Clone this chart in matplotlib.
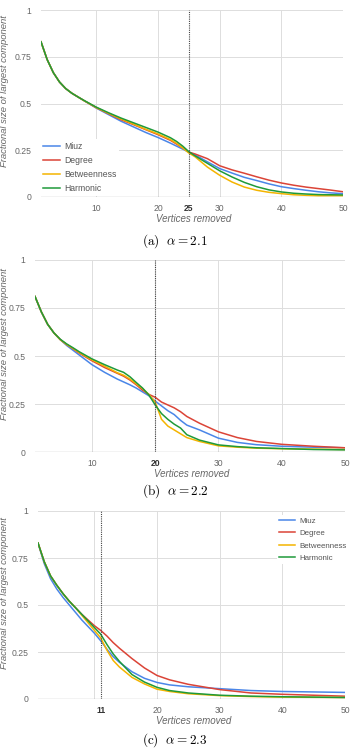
import matplotlib

matplotlib.use("Agg", force=True)
import matplotlib.pyplot as plt

plt.rcParams["font.family"] = ["Liberation Sans", "DejaVu Sans"]
plt.rcParams["mathtext.fontset"] = "cm"

SERIES = ["Miuz", "Degree", "Betweenness", "Harmonic"]
COLORS = ["#4a86e8", "#db4437", "#f4b400", "#1f9a3a"]

# (a) alpha = 2.1
x_a = [1, 2, 3, 4, 5, 6, 7, 8, 10, 12, 14, 16, 18, 20, 22, 23, 24, 25, 26, 28,
       30, 32, 34, 36, 38, 40, 42, 44, 46, 48, 50]
miuz_a = [0.83, 0.735, 0.665, 0.615, 0.58, 0.555, 0.535, 0.515, 0.475, 0.44, 0.405,
          0.375, 0.345, 0.318, 0.288, 0.272, 0.256, 0.24, 0.225, 0.188, 0.152, 0.128,
          0.105, 0.088, 0.07, 0.055, 0.045, 0.036, 0.028, 0.022, 0.018]
degree_a = [0.83, 0.735, 0.665, 0.615, 0.58, 0.555, 0.535, 0.515, 0.477, 0.445, 0.413,
            0.387, 0.36, 0.333, 0.303, 0.283, 0.262, 0.24, 0.23, 0.205, 0.167, 0.145,
            0.127, 0.108, 0.09, 0.075, 0.063, 0.053, 0.045, 0.037, 0.028]
betw_a = [0.83, 0.735, 0.665, 0.615, 0.58, 0.555, 0.535, 0.515, 0.478, 0.447, 0.417,
          0.39, 0.362, 0.337, 0.307, 0.287, 0.262, 0.235, 0.215, 0.16, 0.116, 0.08,
          0.053, 0.036, 0.025, 0.018, 0.012, 0.009, 0.007, 0.007, 0.007]
harm_a = [0.83, 0.735, 0.665, 0.615, 0.58, 0.555, 0.535, 0.516, 0.48, 0.45, 0.422,
          0.397, 0.372, 0.347, 0.317, 0.297, 0.272, 0.242, 0.22, 0.18, 0.14, 0.107,
          0.078, 0.055, 0.038, 0.027, 0.02, 0.016, 0.013, 0.012, 0.011]

# (b) alpha = 2.2
x_b = [1, 2, 3, 4, 5, 6, 7, 8, 10, 12, 14, 15, 16, 17, 18, 19, 20, 21, 22, 23, 24,
       25, 27, 30, 33, 36, 40, 45, 50]
miuz_b = [0.81, 0.73, 0.665, 0.62, 0.585, 0.555, 0.53, 0.505, 0.455, 0.415, 0.38,
          0.365, 0.35, 0.333, 0.313, 0.293, 0.265, 0.24, 0.215, 0.195, 0.165, 0.14,
          0.115, 0.072, 0.05, 0.038, 0.03, 0.025, 0.022]
degree_b = [0.81, 0.73, 0.665, 0.62, 0.585, 0.56, 0.538, 0.515, 0.475, 0.44, 0.41,
            0.395, 0.375, 0.35, 0.322, 0.30, 0.285, 0.26, 0.245, 0.23, 0.21, 0.185,
            0.15, 0.105, 0.075, 0.055, 0.04, 0.03, 0.022]
betw_b = [0.81, 0.73, 0.665, 0.62, 0.585, 0.56, 0.54, 0.518, 0.48, 0.447, 0.413,
          0.40, 0.38, 0.355, 0.33, 0.30, 0.26, 0.17, 0.135, 0.115, 0.095, 0.075,
          0.055, 0.032, 0.025, 0.02, 0.017, 0.015, 0.013]
harm_b = [0.81, 0.73, 0.665, 0.62, 0.587, 0.563, 0.543, 0.522, 0.485, 0.455, 0.427,
          0.415, 0.392, 0.362, 0.333, 0.297, 0.245, 0.20, 0.17, 0.145, 0.125, 0.09,
          0.062, 0.037, 0.028, 0.022, 0.018, 0.013, 0.011]

# (c) alpha = 2.3
x_c = [1, 2, 3, 4, 5, 6, 7, 8, 9, 10, 11, 12, 13, 14, 16, 18, 20, 22, 25, 30, 35,
       40, 50]
miuz_c = [0.83, 0.72, 0.64, 0.585, 0.54, 0.50, 0.46, 0.42, 0.385, 0.35, 0.31, 0.265,
          0.225, 0.195, 0.145, 0.11, 0.088, 0.075, 0.065, 0.055, 0.045, 0.04, 0.035]
degree_c = [0.83, 0.73, 0.655, 0.605, 0.56, 0.52, 0.485, 0.45, 0.42, 0.39, 0.365,
            0.335, 0.30, 0.27, 0.215, 0.165, 0.125, 0.102, 0.078, 0.05, 0.032, 0.025,
            0.015]
betw_c = [0.83, 0.73, 0.655, 0.605, 0.56, 0.52, 0.485, 0.445, 0.405, 0.365, 0.325,
          0.26, 0.205, 0.17, 0.115, 0.08, 0.052, 0.04, 0.028, 0.018, 0.013, 0.01,
          0.008]
harm_c = [0.83, 0.73, 0.655, 0.605, 0.56, 0.52, 0.485, 0.45, 0.415, 0.38, 0.345,
          0.29, 0.24, 0.20, 0.13, 0.09, 0.062, 0.045, 0.032, 0.02, 0.015, 0.012, 0.008]

GRID_X = [10, 20, 30, 40, 50]
GRID_Y = [0.25, 0.5, 0.75, 1.0]

W, H = 351, 749


def px_rect(left, top, right, bottom):
    """Axes rectangle from pixel edges measured from the top-left corner."""
    return [left / W, 1 - bottom / H, (right - left) / W, (bottom - top) / H]


PANELS = [
    dict(x=x_a, ys=[miuz_a, degree_a, betw_a, harm_a], mark=25,
         labels=[10, 20, 25, 30, 40, 50], caption=r"$\mathrm{(a)}\ \ \alpha = 2.1$",
         edges=(41, 10, 343, 197), cap_y=241,
         legend=dict(loc="lower left", bbox=(40, 196), size=6.2)),
    dict(x=x_b, ys=[miuz_b, degree_b, betw_b, harm_b], mark=20,
         labels=[10, 20, 30, 40, 50], caption=r"$\mathrm{(b)}\ \ \alpha = 2.2$",
         edges=(35, 260, 345, 452), cap_y=491, legend=None),
    dict(x=x_c, ys=[miuz_c, degree_c, betw_c, harm_c], mark=11,
         labels=[11, 20, 30, 40, 50], caption=r"$\mathrm{(c)}\ \ \alpha = 2.3$",
         edges=(38, 511, 345, 699), cap_y=740,
         legend=dict(loc="upper left", bbox=(277, 515), size=5.7)),
]

fig = plt.figure(figsize=(W / 100, H / 100), dpi=100)

for panel in PANELS:
    left, top, right, bottom = panel["edges"]
    ax = fig.add_axes(px_rect(left, top, right, bottom))
    for name, ys, color in zip(SERIES, panel["ys"], COLORS):
        ax.plot(panel["x"], ys, color=color, lw=1.1, label=name, zorder=3)

    ax.set_xlim(1, 50)
    ax.set_ylim(0, 1)
    for side in ax.spines.values():
        side.set_visible(False)

    for gx in GRID_X:
        ax.axvline(gx, color="#dddddd", lw=0.7, zorder=0)
    for gy in GRID_Y:
        ax.axhline(gy, color="#dddddd", lw=0.7, zorder=0)

    ax.set_xticks(panel["labels"], [str(v) for v in panel["labels"]])
    ax.set_yticks([0, 0.25, 0.5, 0.75, 1], ["0", "0.25", "0.5", "0.75", "1"])
    ax.tick_params(length=0, labelsize=6.2, colors="#666666")
    ax.tick_params(axis="x", pad=5)
    ax.tick_params(axis="y", pad=7)
    for lab in ax.get_xticklabels():
        if lab.get_text() == str(panel["mark"]):
            lab.set_fontweight("bold")
            lab.set_color("#333333")

    ax.axhline(0, color="#333333", lw=0.8, zorder=4)
    ax.axvline(panel["mark"], color="#444444", lw=0.8, ls=(0, (1, 1)), zorder=5)

    ax.set_xlabel("Vertices removed", fontsize=7, style="italic", color="#666666")
    ax.xaxis.set_label_coords(0.5, 1 - (bottom + 22) / H, transform=fig.transFigure)
    ax.set_ylabel("Fractional size of largest component", fontsize=6.8,
                  style="italic", color="#666666")
    ax.yaxis.set_label_coords(5 / W, 1 - (top + bottom - 24) / 2 / H,
                              transform=fig.transFigure)
    ax.xaxis.label.set_x((left + right) / 2 / W + 0.005)
    ax.xaxis.label.set_va("center")
    ax.yaxis.label.set_va("center")

    if panel["legend"]:
        bx, by = panel["legend"]["bbox"]
        leg = ax.legend(loc=panel["legend"]["loc"], bbox_to_anchor=(bx / W, 1 - by / H),
                        bbox_transform=fig.transFigure, fontsize=panel["legend"]["size"],
                        frameon=True, fancybox=False, edgecolor="none", framealpha=1,
                        handlelength=2.0, handletextpad=0.5, labelspacing=0.6,
                        borderpad=0.3, borderaxespad=0)
        for txt in leg.get_texts():
            txt.set_color("#555555")
        leg.set_zorder(6)

    fig.text(175 / W, 1 - panel["cap_y"] / H, panel["caption"],
             ha="center", va="center", fontsize=9.5)

fig.savefig("out.png", dpi=100)
plt.close(fig)
